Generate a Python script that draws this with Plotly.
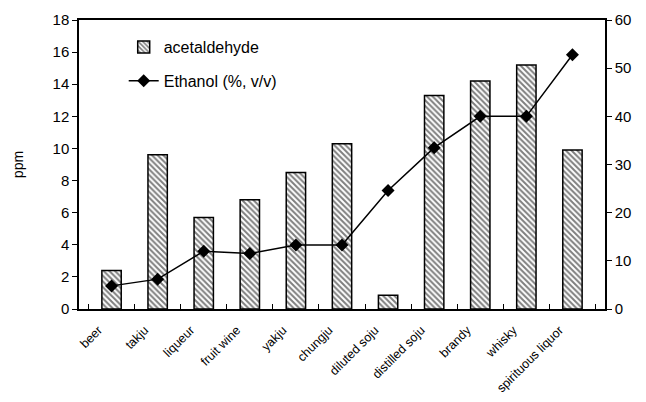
import plotly.graph_objects as go

categories = ["beer", "takju", "liqueur", "fruit wine", "yakju", "chungju",
              "diluted soju", "distilled soju", "brandy", "whisky", "spirituous liquor"]
acetaldehyde = [2.4, 9.6, 5.7, 6.8, 8.5, 10.3, 0.85, 13.3, 14.2, 15.2, 9.9]
ethanol = [4.8, 6.2, 12.0, 11.5, 13.3, 13.3, 24.6, 33.5, 40.0, 40.0, 52.8]

fig = go.Figure()
fig.add_trace(go.Bar(
    x=categories, y=acetaldehyde, name="acetaldehyde", legendgroup="a",
    marker=dict(color="white", line=dict(color="black", width=1.5),
                pattern=dict(shape="\\", fgcolor="black", bgcolor="white", size=4, solidity=0.5)),
))
fig.add_trace(go.Scatter(
    x=categories, y=ethanol, name="Ethanol (%, v/v)", yaxis="y2", legendgroup="b",
    mode="lines+markers",
    line=dict(color="black", width=1.5),
    marker=dict(symbol="diamond", size=10, color="black"),
))

font = dict(family="Liberation Sans, Arial, sans-serif", size=14, color="black")
fig.update_layout(
    width=646, height=402,
    margin=dict(l=79, r=41, t=20, b=93),
    paper_bgcolor="white", plot_bgcolor="white",
    font=font,
    bargap=0.58,
    showlegend=True,
    legend=dict(x=0.085, y=0.965, xanchor="left", yanchor="top",
                bgcolor="rgba(0,0,0,0)", font=dict(size=16), tracegroupgap=10),
    xaxis=dict(showline=True, linecolor="black", linewidth=2, mirror=True,
               ticks="inside", tickson="boundaries", ticklen=5, tickcolor="black",
               tickangle=-45, tickfont=dict(size=12.5), ticklabelstandoff=7,
               ticklabelshift=-13, showgrid=False, automargin=False),
    yaxis=dict(range=[0, 18], dtick=2, showline=True, linecolor="black", linewidth=1.5,
               ticks="outside", ticklen=5, tickcolor="black", showgrid=False,
               zeroline=False, title=dict(text="ppm", font=dict(size=14), standoff=26),
               tickfont=dict(size=15), automargin=False),
    yaxis2=dict(range=[0, 60], dtick=10, overlaying="y", side="right",
                showline=True, linecolor="black", linewidth=1.5,
                ticks="outside", ticklen=5, tickcolor="black", showgrid=False,
                zeroline=False, tickfont=dict(size=15), automargin=False),
)

fig.write_html("out.html")
